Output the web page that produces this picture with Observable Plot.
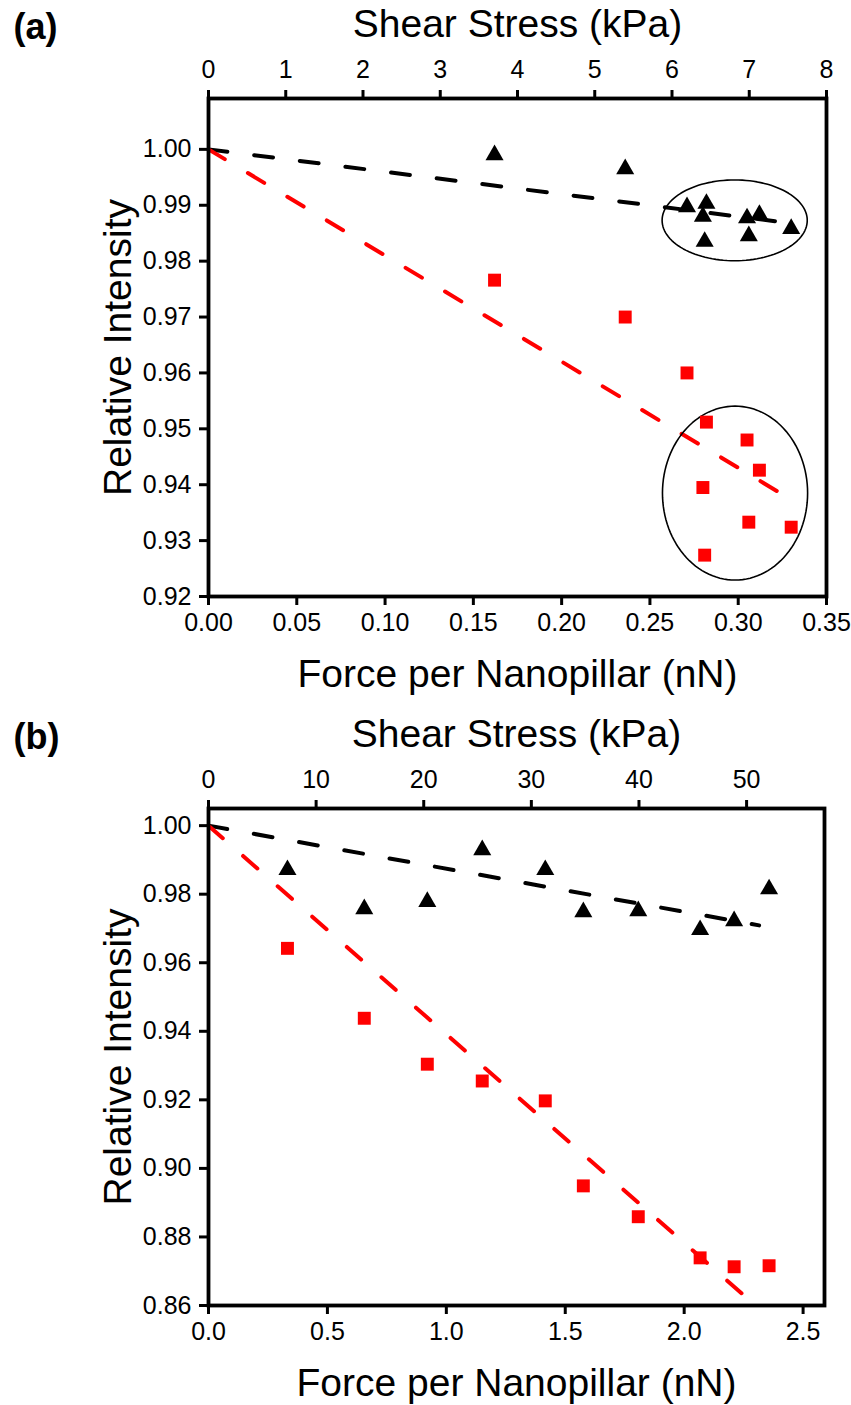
<!DOCTYPE html>
<html>
<head>
<meta charset="utf-8">
<script src="https://cdn.jsdelivr.net/npm/d3@7"></script>
<script src="https://cdn.jsdelivr.net/npm/@observablehq/plot@0.6"></script>
<style>
  html, body { margin: 0; padding: 0; background: #fff; }
  #chart svg { display: block; }
</style>
</head>
<body>
<div id="chart"></div>
<script>
// ---------- Panel (a) data ----------
const forceA = [0.162, 0.236, 0.271, 0.282, 0.280, 0.281, 0.305, 0.312, 0.306, 0.330];
const triangleA = [0.9990, 0.9965, 0.9897, 0.9903, 0.9880, 0.9835, 0.9877, 0.9883, 0.9845, 0.9858];
const squareA = [0.9766, 0.9700, 0.9600, 0.9512, 0.9395, 0.9274, 0.9480, 0.9426, 0.9333, 0.9324];
const fitBlackA = [{x: 0, y: 1.0}, {x: 0.322, y: 0.9871}];
const fitRedA = [{x: 0, y: 1.0}, {x: 0.327, y: 0.9379}];
const ellipsesA = [
  {cx: 0.298, cy: 0.9873, rx: 0.0411, ry: 0.00723},
  {cx: 0.2982, cy: 0.9385, rx: 0.0411, ry: 0.01556}
];
const xTicksA = [0, 0.05, 0.10, 0.15, 0.20, 0.25, 0.30, 0.35];
const yTicksA = [0.92, 0.93, 0.94, 0.95, 0.96, 0.97, 0.98, 0.99, 1.00];
const kpaTicksA = [0, 1, 2, 3, 4, 5, 6, 7, 8];
const kpaPerNnA = 8 / 0.35;

// ---------- Panel (b) data ----------
const forceB = [0.332, 0.655, 0.920, 1.151, 1.416, 1.576, 1.807, 2.067, 2.210, 2.357];
const triangleB = [0.9871, 0.9757, 0.9778, 0.9929, 0.9871, 0.9748, 0.9751, 0.9696, 0.9722, 0.9815];
const squareB = [0.9642, 0.9438, 0.9304, 0.9255, 0.9197, 0.8949, 0.8859, 0.8739, 0.8713, 0.8716];
const fitBlackB = [{x: 0, y: 1.0}, {x: 2.315, y: 0.9709}];
const fitRedB = [{x: 0, y: 1.0}, {x: 2.30, y: 0.86}];
const xTicksB = [0, 0.5, 1.0, 1.5, 2.0, 2.5];
const yTicksB = [0.86, 0.88, 0.90, 0.92, 0.94, 0.96, 0.98, 1.00];
const kpaTicksB = [0, 10, 20, 30, 40, 50];
const kpaPerNnB = 22.1;

const labelTop = "Shear Stress (kPa)";
const labelBottom = "Force per Nanopillar (nN)";
const labelLeft = "Relative Intensity";

const FONT = "'Liberation Sans', Arial, Helvetica, sans-serif";

function ellipsePoints(ells) {
  const pts = [];
  ells.forEach((e, id) => {
    for (let deg = 0; deg <= 360; deg += 3) {
      const t = deg * Math.PI / 180;
      pts.push({id, x: e.cx + e.rx * Math.cos(t), y: e.cy + e.ry * Math.sin(t)});
    }
  });
  return pts;
}

function panel(o) {
  const tri = o.force.map((x, i) => ({x, y: o.tri[i]}));
  const sq = o.force.map((x, i) => ({x, y: o.sq[i]}));
  const axisCommon = {fontSize: 25, tickSize: 9, strokeWidth: 3, label: null};
  const dash = {x: "x", y: "y", strokeWidth: 4, strokeDasharray: "19,27", strokeLinecap: "round"};
  return Plot.plot({
    width: 851,
    height: o.height,
    marginLeft: 208,
    marginRight: o.marginRight,
    marginTop: 98,
    marginBottom: o.marginBottom,
    style: {fontFamily: FONT, color: "#000", background: "#fff", overflow: "visible"},
    x: {domain: o.xDomain},
    y: {domain: o.yDomain},
    marks: [
      Plot.line(o.fitBlack, {...dash, stroke: "#000"}),
      Plot.line(o.fitRed, {...dash, stroke: "#ff0000"}),
      o.ellipses ? Plot.line(ellipsePoints(o.ellipses), {x: "x", y: "y", z: "id", stroke: "#000", strokeWidth: 1.6}) : null,
      Plot.dot(tri, {x: "x", y: "y", symbol: "triangle", r: 6.7, fill: "#000", stroke: null}),
      Plot.dot(sq, {x: "x", y: "y", symbol: "square", r: 7.3, fill: "#ff0000", stroke: null}),
      Plot.frame({stroke: "#000", strokeWidth: 3.8}),
      Plot.axisX(o.xTicks, {...axisCommon, anchor: "bottom", tickPadding: 8, tickFormat: d3.format(o.xFmt)}),
      Plot.axisX(o.kpaTicks.map(k => k / o.kpaPerNn), {...axisCommon, anchor: "top", tickPadding: 12,
        tickFormat: d => String(Math.round(d * o.kpaPerNn))}),
      Plot.axisY(o.yTicks, {...axisCommon, anchor: "left", tickPadding: 8, tickFormat: d3.format(".2f")}),
      Plot.text([labelTop], {text: d => d, frameAnchor: "top", textAnchor: "middle", dy: -74, lineAnchor: "middle", fontSize: 39}),
      Plot.text([labelBottom], {text: d => d, frameAnchor: "bottom", textAnchor: "middle", dy: 78, lineAnchor: "middle", fontSize: 39}),
      Plot.text([labelLeft], {text: d => d, frameAnchor: "left", textAnchor: "middle", dx: -90, rotate: -90, lineAnchor: "middle", fontSize: 39}),
      Plot.text([o.tag], {text: d => d, frameAnchor: "top-left", textAnchor: "start", dx: -195, dy: -71,
        lineAnchor: "middle", fontSize: 36, fontWeight: "bold"})
    ].filter(Boolean)
  });
}

const chart = document.getElementById("chart");
chart.append(panel({
  tag: "(a)", height: 710, marginRight: 25, marginBottom: 114,
  xDomain: [0, 0.35], yDomain: [0.92, 1.0091],
  xTicks: xTicksA, xFmt: ".2f", yTicks: yTicksA,
  kpaTicks: kpaTicksA, kpaPerNn: kpaPerNnA,
  force: forceA, tri: triangleA, sq: squareA,
  fitBlack: fitBlackA, fitRed: fitRedA, ellipses: ellipsesA
}));
chart.append(panel({
  tag: "(b)", height: 695, marginRight: 27, marginBottom: 100,
  xDomain: [0, 2.59], yDomain: [0.86, 1.005],
  xTicks: xTicksB, xFmt: ".1f", yTicks: yTicksB,
  kpaTicks: kpaTicksB, kpaPerNn: kpaPerNnB,
  force: forceB, tri: triangleB, sq: squareB,
  fitBlack: fitBlackB, fitRed: fitRedB, ellipses: null
}));
</script>
</body>
</html>
